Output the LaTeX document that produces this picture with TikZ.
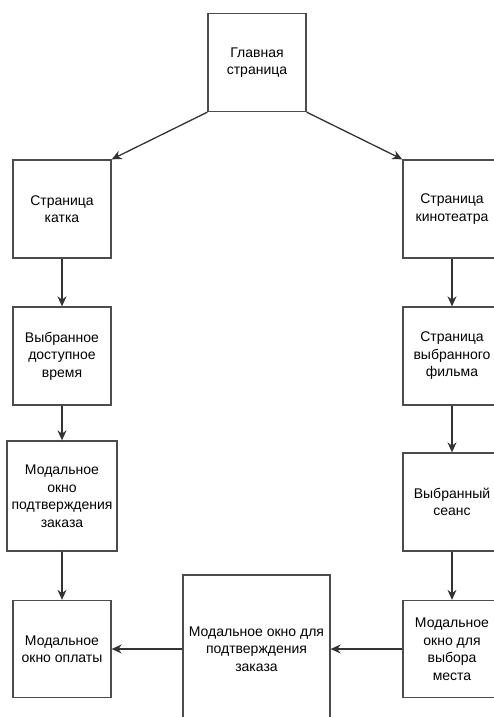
\documentclass[tikz,border=0pt]{standalone}
\usepackage{fontspec}
\setmainfont{Liberation Sans}
\usetikzlibrary{arrows.meta}

\begin{document}
\begin{tikzpicture}[x=1pt, y=-1pt,
    page/.style={draw=black!70, line width=1.3pt, fill=white, align=center, inner sep=2pt,
        minimum width=98pt, minimum height=98pt, font=\fontsize{14}{17.5}\selectfont},
    link/.style={-{Stealth[length=10pt, width=9pt]}, line width=1.3pt, draw=black!80}]
        \clip (0,0) rectangle (494,717);
        \fill[white] (0,0) rectangle (494,717);

        \node[page] (main) at (257,62.5) {Главная\\страница};

        % left branch
        \node[page] (katok) at (62,209) {Страница\\катка};
        \node[page] (time) at (62,356) {Выбранное\\доступное\\время};
        \node[page, minimum width=110pt, minimum height=110pt] (confirmL) at (62,496) {Модальное\\окно\\подтверждения\\заказа};
        \node[page, minimum height=97pt] (pay) at (62,649) {Модальное\\окно оплаты};

        % right branch
        \node[page] (cinema) at (452,209) {Страница\\кинотеатра};
        \node[page] (film) at (452,356) {Страница\\выбранного\\фильма};
        \node[page] (session) at (452,502) {Выбранный\\сеанс};
        \node[page, minimum height=97pt] (seat) at (452,649) {Модальное\\окно для\\выбора\\места};

        \node[page, minimum width=147pt, minimum height=148pt] (confirmM) at (256.5,649) {Модальное окно для\\подтверждения\\заказа};

        \draw[link] (main.south west) -- (katok.north east);
        \draw[link] (main.south east) -- (cinema.north west);

        \draw[link] (katok) -- (time);
        \draw[link] (time) -- (confirmL);
        \draw[link] (confirmL) -- (pay);

        \draw[link] (cinema) -- (film);
        \draw[link] (film) -- (session);
        \draw[link] (session) -- (seat);
        \draw[link] (seat) -- (confirmM);
        \draw[link] (confirmM) -- (pay);
    \end{tikzpicture}
\end{document}
